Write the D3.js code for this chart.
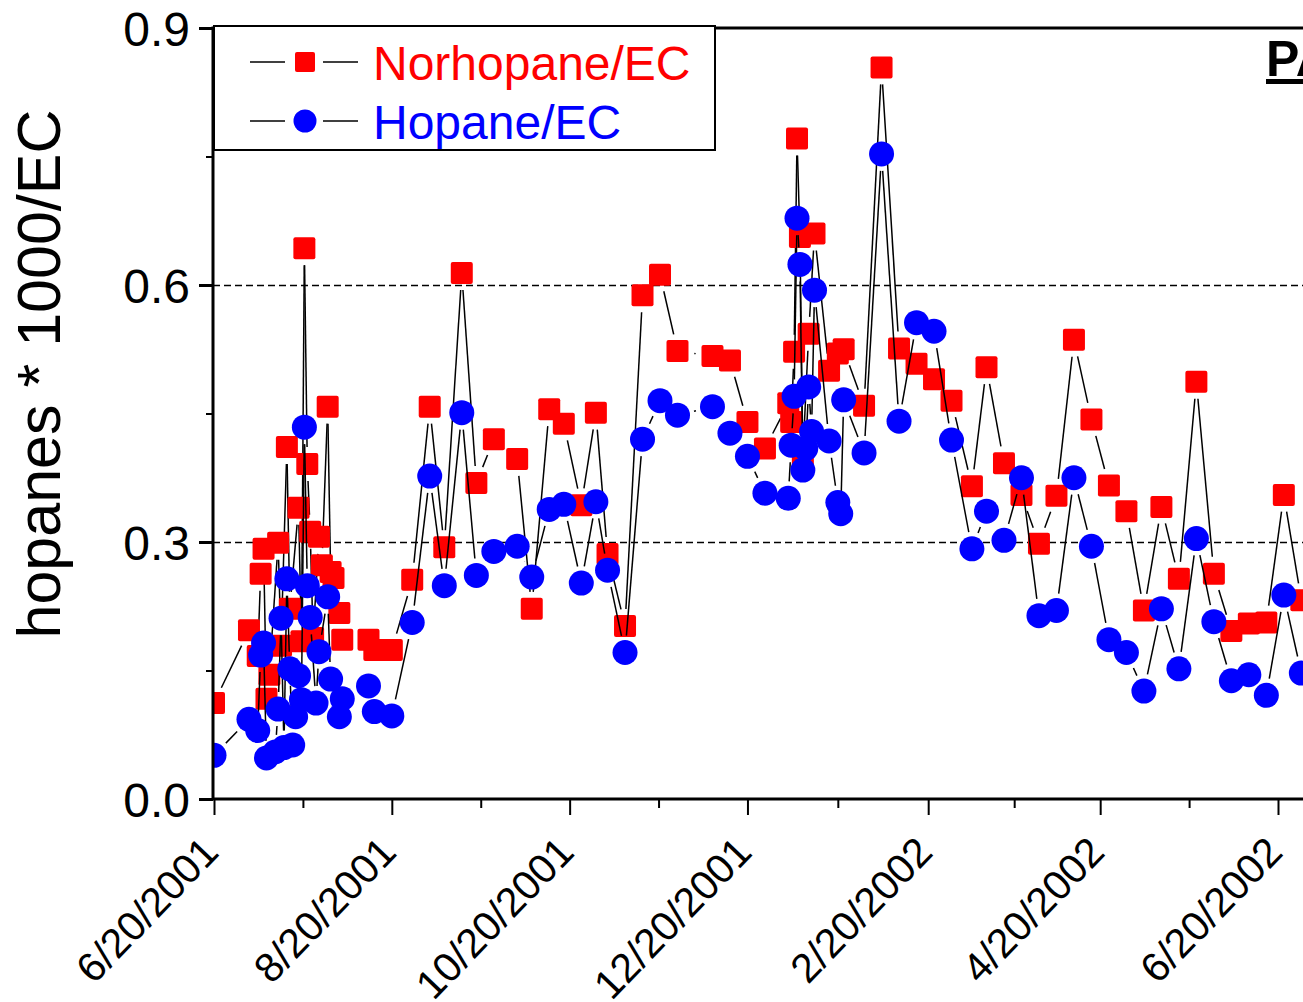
<!DOCTYPE html>
<html>
<head>
<meta charset="utf-8">
<title>hopanes * 1000/EC</title>
<style>
  body { margin: 0; background: #fff; }
  svg { display: block; font-family: "Liberation Sans", Arial, sans-serif; }
  .axis path { display: none; }
  .axis text { fill: #000; }
</style>
</head>
<body>
<div id="viz"></div>
<script src="https://d3js.org/d3.v7.min.js"></script>
<script>

// Norhopane/EC samples
var norDates = ["2001-06-20","2001-07-02","2001-07-05","2001-07-06","2001-07-07","2001-07-08","2001-07-09",
  "2001-07-12","2001-07-13","2001-07-15","2001-07-16","2001-07-19","2001-07-20","2001-07-21","2001-07-22",
  "2001-07-23","2001-07-24","2001-07-26","2001-07-27","2001-07-29","2001-07-30","2001-07-31","2001-08-02",
  "2001-08-03","2001-08-12","2001-08-14","2001-08-20","2001-08-27","2001-09-02","2001-09-07","2001-09-13",
  "2001-09-18","2001-09-24","2001-10-02","2001-10-07","2001-10-13","2001-10-18","2001-10-24","2001-10-29",
  "2001-11-02","2001-11-08","2001-11-14","2001-11-20","2001-11-26","2001-12-08","2001-12-14","2001-12-20",
  "2001-12-26","2002-01-03","2002-01-04","2002-01-05","2002-01-06","2002-01-07","2002-01-08","2002-01-10",
  "2002-01-12","2002-01-17","2002-01-20","2002-01-22","2002-01-29","2002-02-04","2002-02-10","2002-02-16",
  "2002-02-22","2002-02-28","2002-03-07","2002-03-12","2002-03-18","2002-03-24","2002-03-30","2002-04-05",
  "2002-04-11","2002-04-17","2002-04-23","2002-04-29","2002-05-05","2002-05-11","2002-05-17","2002-05-23",
  "2002-05-29","2002-06-04","2002-06-10","2002-06-16","2002-06-22","2002-06-28"];
var norValues = [0.112,0.197,0.167,0.263,0.292,0.117,0.145,
  0.299,0.179,0.411,0.222,0.340,0.184,0.643,0.391,
  0.312,0.188,0.306,0.273,0.458,0.265,0.258,0.217,
  0.186,0.186,0.174,0.174,0.256,0.458,0.294,0.614,
  0.369,0.420,0.397,0.222,0.455,0.438,0.343,0.451,
  0.286,0.202,0.588,0.612,0.523,0.517,0.512,0.440,
  0.409,0.462,0.440,0.522,0.771,0.656,0.400,0.543,
  0.660,0.500,0.520,0.525,0.459,0.854,0.526,0.508,
  0.490,0.465,0.365,0.504,0.392,0.355,0.298,0.354,
  0.536,0.443,0.366,0.336,0.220,0.341,0.257,0.487,
  0.263,0.196,0.205,0.206,0.355,0.232];

// Hopane/EC samples
var hopDates = ["2001-06-20","2001-07-02","2001-07-05","2001-07-06","2001-07-07","2001-07-08","2001-07-11",
  "2001-07-12","2001-07-13","2001-07-14","2001-07-15","2001-07-16","2001-07-17","2001-07-18","2001-07-19",
  "2001-07-20","2001-07-21","2001-07-22","2001-07-23","2001-07-25","2001-07-26","2001-07-29","2001-07-30",
  "2001-08-02","2001-08-03","2001-08-12","2001-08-14","2001-08-20","2001-08-27","2001-09-02","2001-09-07",
  "2001-09-13","2001-09-18","2001-09-24","2001-10-02","2001-10-07","2001-10-13","2001-10-18","2001-10-24",
  "2001-10-29","2001-11-02","2001-11-08","2001-11-14","2001-11-20","2001-11-26","2001-12-08","2001-12-14",
  "2001-12-20","2001-12-26","2002-01-03","2002-01-04","2002-01-05","2002-01-06","2002-01-07","2002-01-08",
  "2002-01-09","2002-01-10","2002-01-11","2002-01-12","2002-01-17","2002-01-20","2002-01-21","2002-01-22",
  "2002-01-29","2002-02-04","2002-02-10","2002-02-16","2002-02-22","2002-02-28","2002-03-07","2002-03-12",
  "2002-03-18","2002-03-24","2002-03-30","2002-04-05","2002-04-11","2002-04-17","2002-04-23","2002-04-29",
  "2002-05-05","2002-05-11","2002-05-17","2002-05-23","2002-05-29","2002-06-04","2002-06-10","2002-06-16",
  "2002-06-22","2002-06-28"];
var hopValues = [0.051,0.093,0.080,0.168,0.182,0.048,0.055,
  0.105,0.211,0.060,0.257,0.152,0.063,0.096,0.144,
  0.116,0.434,0.249,0.212,0.112,0.172,0.236,0.140,
  0.096,0.117,0.132,0.102,0.097,0.206,0.377,0.249,
  0.451,0.261,0.289,0.295,0.259,0.338,0.344,0.252,
  0.347,0.267,0.171,0.420,0.465,0.448,0.458,0.427,
  0.400,0.357,0.351,0.413,0.470,0.678,0.624,0.384,
  0.409,0.481,0.429,0.594,0.418,0.346,0.333,0.466,
  0.404,0.753,0.441,0.556,0.546,0.419,0.292,0.336,
  0.302,0.375,0.214,0.220,0.375,0.295,0.186,0.171,
  0.126,0.222,0.152,0.304,0.207,0.138,0.145,0.121,
  0.238,0.147];

var xTickDates = ["2001-06-20","2001-08-20","2001-10-20","2001-12-20","2002-02-20","2002-04-20","2002-06-20"];
var yTicks = [0.0, 0.3, 0.6, 0.9];
var yMinorTicks = [0.15, 0.45, 0.75];
var gridValues = [0.3, 0.6];

(function() {

  var parse = d3.timeParse("%Y-%m-%d");
  var fmt = d3.timeFormat("%-m/%-d/%Y");

  var W = 1303, H = 1002;
  var pLeft = 213, pTop = 28, pBottom = 799;

  var x = d3.scaleTime()
      .domain([parse("2001-06-20"), parse("2002-06-20")])
      .range([214, 1278]);

  var y = d3.scaleLinear()
      .domain([0, 0.9])
      .range([pBottom, pTop]);

  var majors = xTickDates.map(parse);
  var minors = d3.pairs(majors).map(function(p) { return new Date((+p[0] + +p[1]) / 2); });
  minors.push(new Date(+majors[majors.length - 1] + (+majors[1] - +majors[0]) / 2));

  var svg = d3.select("#viz").append("svg")
      .attr("width", W)
      .attr("height", H);

  svg.append("defs").append("clipPath")
      .attr("id", "plot")
    .append("rect")
      .attr("x", pLeft).attr("y", pTop)
      .attr("width", W - pLeft + 50).attr("height", pBottom - pTop);

  // dashed grid
  svg.append("g").selectAll("line")
      .data(gridValues)
    .enter().append("line")
      .attr("x1", pLeft).attr("x2", W + 10)
      .attr("y1", function(d) { return Math.round(y(d)) + 0.5; })
      .attr("y2", function(d) { return Math.round(y(d)) + 0.5; })
      .attr("stroke", "#000")
      .attr("stroke-width", 1.3)
      .attr("stroke-dasharray", "7,4");

  // y axis
  var yAx = svg.append("g")
      .attr("class", "axis")
      .attr("transform", "translate(" + pLeft + ",0)")
      .call(d3.axisLeft(y).tickValues(yTicks).tickSize(14).tickSizeOuter(0).tickPadding(9).tickFormat(d3.format(".1f")));
  yAx.selectAll("line").attr("stroke-width", 3);
  yAx.selectAll("text").style("font-size", "48px").attr("dy", "0.36em");

  var yMin = svg.append("g")
      .attr("class", "axis")
      .attr("transform", "translate(" + pLeft + ",0)")
      .call(d3.axisLeft(y).tickValues(yMinorTicks).tickSize(7).tickSizeOuter(0).tickFormat(""));
  yMin.selectAll("line").attr("stroke-width", 2);

  // x axis
  var xAx = svg.append("g")
      .attr("class", "axis")
      .attr("transform", "translate(0," + pBottom + ")")
      .call(d3.axisBottom(x).tickValues(majors).tickSize(16).tickSizeOuter(0).tickFormat(fmt));
  xAx.selectAll("line").attr("stroke-width", 2);
  xAx.selectAll("text")
      .style("font-size", "41px")
      .style("text-anchor", "end")
      .attr("y", 0).attr("dy", 0)
      .attr("transform", "translate(6,55) rotate(-46)");

  var xMin = svg.append("g")
      .attr("class", "axis")
      .attr("transform", "translate(0," + pBottom + ")")
      .call(d3.axisBottom(x).tickValues(minors).tickSize(9).tickSizeOuter(0).tickFormat(""));
  xMin.selectAll("line").attr("stroke-width", 2);

  // y title
  svg.append("text")
      .attr("transform", "translate(60,374) rotate(-90)")
      .style("text-anchor", "middle")
      .style("font-size", "61px")
      .text("hopanes * 1000/EC");

  // series
  var nor = norDates.map(function(d, i) { return { date: parse(d), v: norValues[i] }; });
  var hop = hopDates.map(function(d, i) { return { date: parse(d), v: hopValues[i] }; });

  var plot = svg.append("g").attr("clip-path", "url(#plot)");
  var gap = 17;

  // line segments stop short of the symbols
  function gappedSegments(data) {
    var pts = data.map(function(d) { return [x(d.date), y(d.v)]; });
    return d3.pairs(pts).map(function(p) {
      var dx = p[1][0] - p[0][0], dy = p[1][1] - p[0][1];
      var len = Math.sqrt(dx * dx + dy * dy);
      if (len <= 2 * gap) return null;
      var ux = dx / len, uy = dy / len;
      return [p[0][0] + ux * gap, p[0][1] + uy * gap, p[1][0] - ux * gap, p[1][1] - uy * gap];
    }).filter(function(s) { return s; });
  }

  function drawLines(data) {
    plot.append("g").selectAll("line")
        .data(gappedSegments(data))
      .enter().append("line")
        .attr("x1", function(s) { return s[0]; })
        .attr("y1", function(s) { return s[1]; })
        .attr("x2", function(s) { return s[2]; })
        .attr("y2", function(s) { return s[3]; })
        .attr("stroke", "#000")
        .attr("stroke-width", 1.5);
  }

  drawLines(nor);
  plot.append("g").selectAll("rect")
      .data(nor)
    .enter().append("rect")
      .attr("x", function(d) { return x(d.date) - 11; })
      .attr("y", function(d) { return y(d.v) - 11; })
      .attr("width", 22).attr("height", 22)
      .attr("rx", 2)
      .attr("fill", "#ff0000");

  drawLines(hop);
  plot.append("g").selectAll("circle")
      .data(hop)
    .enter().append("circle")
      .attr("cx", function(d) { return x(d.date); })
      .attr("cy", function(d) { return y(d.v); })
      .attr("r", 12.5)
      .attr("fill", "#0000ff");

  // frame
  svg.append("path")
      .attr("d", "M" + (W + 10) + "," + pTop + "H" + pLeft + "V" + pBottom + "H" + (W + 10))
      .attr("fill", "none")
      .attr("stroke", "#000")
      .attr("stroke-width", 3);

  // site label (cut by the right edge)
  svg.append("text")
      .attr("x", 1266).attr("y", 76)
      .style("font-size", "50px")
      .style("font-weight", "bold")
      .style("text-decoration", "underline")
      .text("PAQS");

  // legend
  var legend = svg.append("g");
  legend.append("rect")
      .attr("x", 214).attr("y", 26)
      .attr("width", 501).attr("height", 124)
      .attr("fill", "#fff")
      .attr("stroke", "#000")
      .attr("stroke-width", 2);

  var legendItems = [
    { name: "Norhopane/EC", color: "#ff0000", shape: "square", cy: 62, base: 80 },
    { name: "Hopane/EC", color: "#0000ff", shape: "circle", cy: 121, base: 139 }
  ];

  var li = legend.selectAll(".item")
      .data(legendItems)
    .enter().append("g")
      .attr("class", "item");

  li.append("line").attr("x1", 250).attr("x2", 285)
      .attr("y1", function(d) { return d.cy; }).attr("y2", function(d) { return d.cy; })
      .attr("stroke", "#000").attr("stroke-width", 1.5);
  li.append("line").attr("x1", 323).attr("x2", 358)
      .attr("y1", function(d) { return d.cy; }).attr("y2", function(d) { return d.cy; })
      .attr("stroke", "#000").attr("stroke-width", 1.5);
  li.filter(function(d) { return d.shape === "square"; }).append("rect")
      .attr("x", 295).attr("y", function(d) { return d.cy - 10; })
      .attr("width", 20).attr("height", 20).attr("rx", 2)
      .attr("fill", function(d) { return d.color; });
  li.filter(function(d) { return d.shape === "circle"; }).append("circle")
      .attr("cx", 305).attr("cy", function(d) { return d.cy; })
      .attr("r", 11.5)
      .attr("fill", function(d) { return d.color; });
  li.append("text")
      .attr("x", 373).attr("y", function(d) { return d.base; })
      .style("font-size", "48px")
      .attr("fill", function(d) { return d.color; })
      .text(function(d) { return d.name; });

})();

</script>
</body>
</html>
